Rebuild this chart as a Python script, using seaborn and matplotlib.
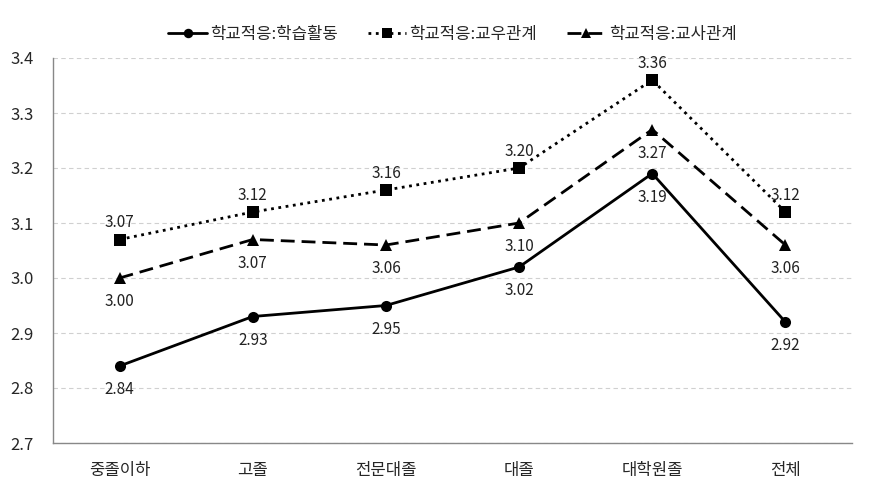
import numpy as np
import pandas as pd
import matplotlib.pyplot as plt
import seaborn as sns

categories = ["중졸이하", "고졸", "전문대졸", "대졸", "대학원졸", "전체"]
study = [2.84, 2.93, 2.95, 3.02, 3.19, 2.92]
peer = [3.07, 3.12, 3.16, 3.20, 3.36, 3.12]
teacher = [3.00, 3.07, 3.06, 3.10, 3.27, 3.06]
series_names = ["학교적응:학습활동", "학교적응:교우관계", "학교적응:교사관계"]

sns.set_theme(style="white")
plt.rcParams['font.family'] = ['Noto Sans CJK KR', 'DejaVu Sans']

df = pd.DataFrame({"cat": categories * 3,
                   "x": list(range(len(categories))) * 3,
                   "val": study + peer + teacher,
                   "series": np.repeat(series_names, len(categories))})

fig = plt.figure(figsize=(8.72, 4.93), dpi=100)
ax = fig.add_axes([53 / 872, 50 / 493, 799 / 872, 385 / 493])

styles = {series_names[0]: ("-", "o", 8, 1),
          series_names[1]: (":", "s", 8, -1),
          series_names[2]: ((0, (5, 2.5)), "^", 9, 1)}
for name, (ls, mk, ms, side) in styles.items():
    d = df[df.series == name]
    sns.lineplot(data=d, x="x", y="val", ax=ax, color="black", linestyle=ls,
                 marker=mk, markersize=ms, linewidth=2, markeredgewidth=0,
                 label=name)
    for xv, yv in zip(d.x, d.val):
        off = -17 if side == 1 else 12
        ax.annotate(f"{yv:.2f}", (xv, yv), xytext=(0, off), textcoords="offset points",
                    ha="center", va="center", fontsize=11, color="#222222")

ax.set_xlim(-0.5, 5.5)
ax.set_ylim(2.7, 3.4)
ax.set_yticks(np.arange(2.7, 3.41, 0.1))
ax.set_yticklabels([f"{v:.1f}" for v in np.arange(2.7, 3.41, 0.1)], fontsize=12)
ax.set_xticks(range(len(categories)))
ax.set_xticklabels(categories, fontsize=12)
ax.tick_params(axis="x", pad=14, length=0)
ax.tick_params(axis="y", pad=14, length=0)
ax.set_xlabel("")
ax.set_ylabel("")
ax.grid(axis="y", color="#d0d0d0", linestyle=(0, (4, 3)), linewidth=0.8)
for s in ["top", "right"]:
    ax.spines[s].set_visible(False)
for s in ["left", "bottom"]:
    ax.spines[s].set_color("#888888")
    ax.spines[s].set_linewidth(1)

leg = ax.legend(loc="lower center", bbox_to_anchor=(0.5, 1.0), ncol=3, frameon=False,
                fontsize=12, handlelength=2.3, columnspacing=1.8, handletextpad=0.2,
                markerscale=0.85)

fig.savefig("out.png", dpi=100)
